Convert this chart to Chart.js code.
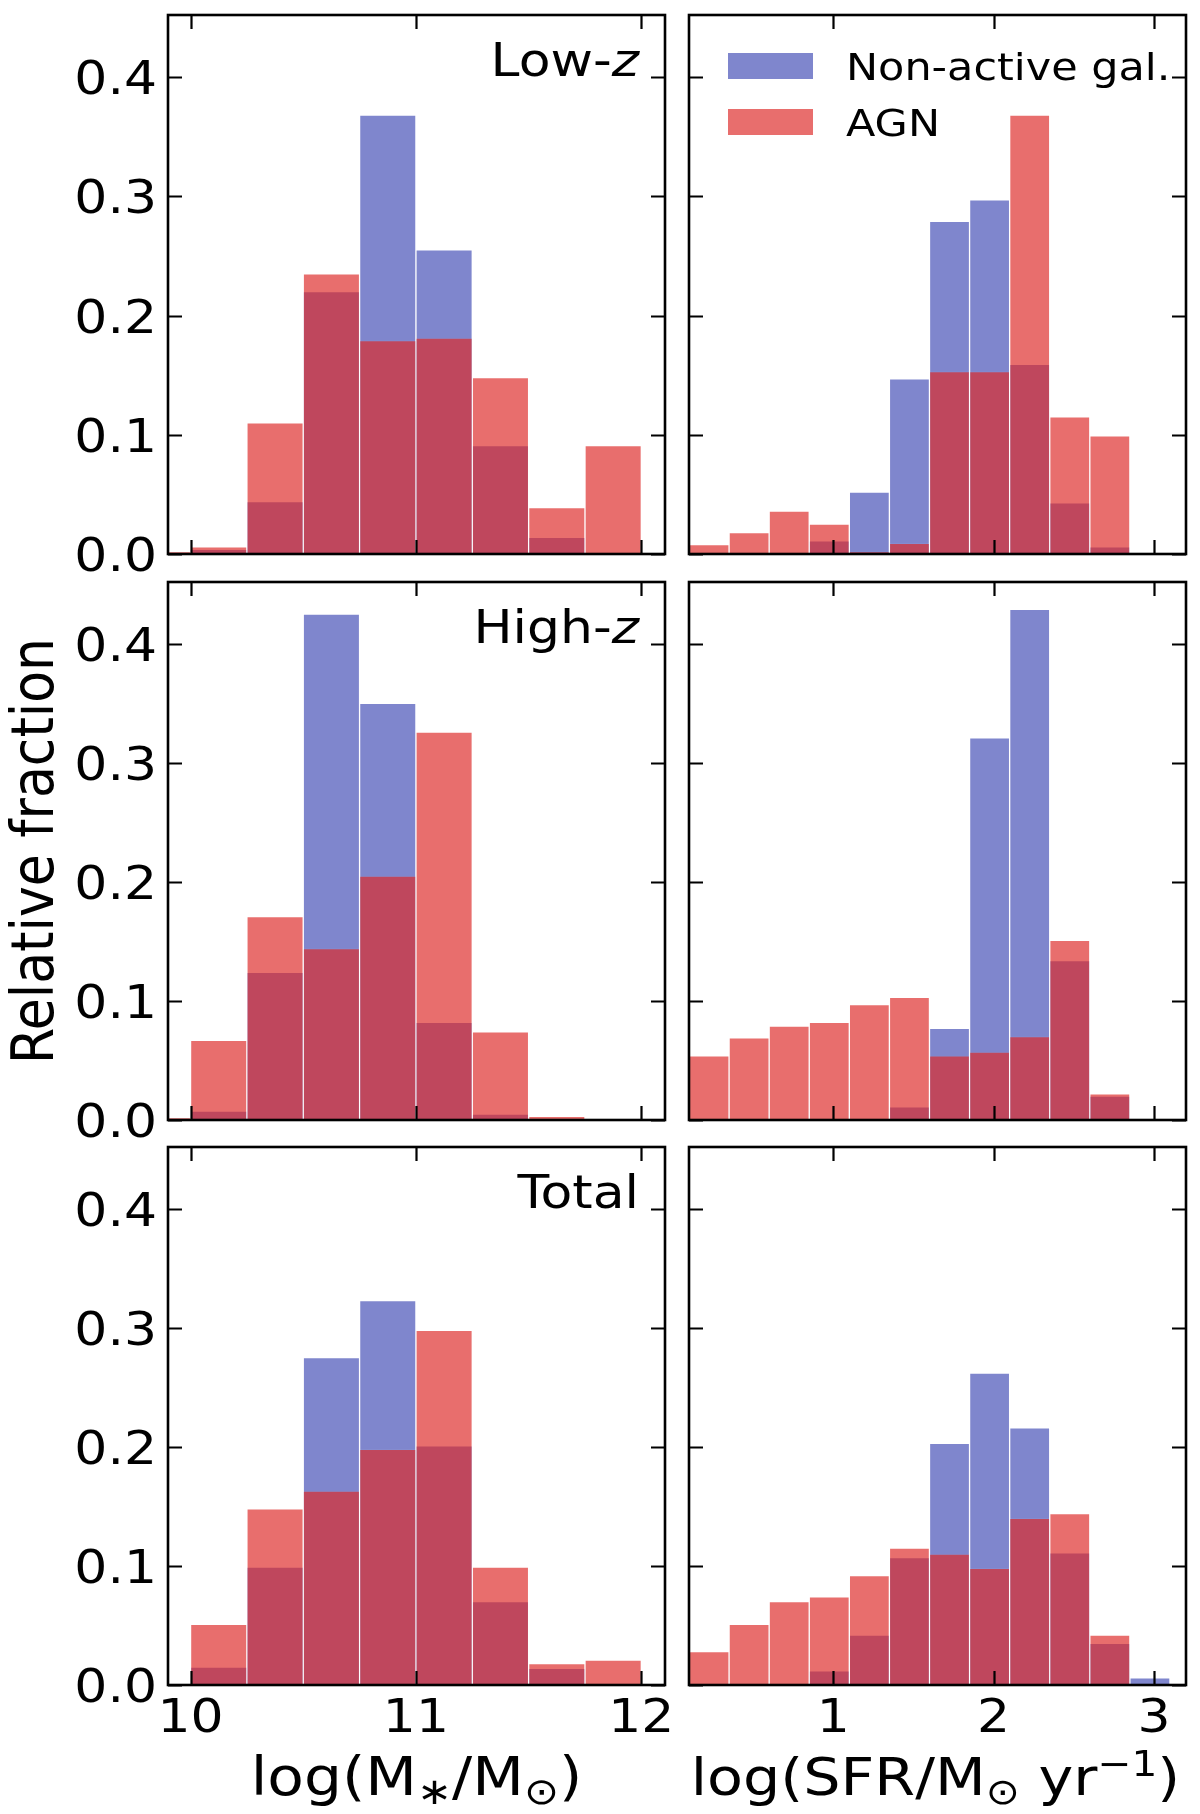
<!DOCTYPE html>
<html>
<head>
<meta charset="utf-8">
<script src="https://cdn.jsdelivr.net/npm/chart.js@4.4.1/dist/chart.umd.min.js"></script>
<style>
  html, body { margin: 0; padding: 0; background: #fff; }
  #page { position: relative; width: 1200px; height: 1814px; overflow: hidden; }
  #page canvas { position: absolute; }
</style>
</head>
<body>
<div id="page"></div>
<script>
// bin centres (bin width 0.25 dex)
const massBins = [9.875, 10.125, 10.375, 10.625, 10.875, 11.125, 11.375, 11.625, 11.875];
const sfrBins = [0.225, 0.475, 0.725, 0.975, 1.225, 1.475, 1.725, 1.975, 2.225, 2.475, 2.725, 2.975];

// tick labels
const yTicks = [0, 0.1, 0.2, 0.3, 0.4];
const yTickLabels = ['0.0', '0.1', '0.2', '0.3', '0.4'];
const massTicks = [10, 11, 12];
const sfrTicks = [1, 2, 3];

// Low-z
const lowMassNonAct = [0, 0.004, 0.044, 0.220, 0.368, 0.255, 0.091, 0.014, 0];
const lowMassAgn = [0.002, 0.006, 0.110, 0.235, 0.179, 0.181, 0.148, 0.039, 0.091];
const lowSfrNonAct = [0, 0, 0, 0.011, 0.052, 0.147, 0.279, 0.297, 0.159, 0.043, 0.006, 0];
const lowSfrAgn = [0.008, 0.018, 0.036, 0.025, 0.002, 0.009, 0.153, 0.153, 0.368, 0.115, 0.099, 0];

// High-z
const highMassNonAct = [0, 0.0075, 0.124, 0.425, 0.350, 0.082, 0.005, 0, 0];
const highMassAgn = [0.002, 0.067, 0.171, 0.144, 0.205, 0.326, 0.074, 0.003, 0];
const highSfrNonAct = [0, 0, 0, 0, 0, 0.011, 0.077, 0.321, 0.429, 0.134, 0.020, 0.001];
const highSfrAgn = [0.054, 0.069, 0.079, 0.082, 0.097, 0.103, 0.054, 0.057, 0.070, 0.151, 0.022, 0];

// Total
const totMassNonAct = [0, 0.015, 0.099, 0.275, 0.323, 0.201, 0.070, 0.014, 0];
const totMassAgn = [0.001, 0.051, 0.148, 0.163, 0.198, 0.298, 0.099, 0.018, 0.021];
const totSfrNonAct = [0, 0, 0.001, 0.012, 0.042, 0.107, 0.203, 0.262, 0.216, 0.111, 0.035, 0.006];
const totSfrAgn = [0.028, 0.051, 0.070, 0.074, 0.092, 0.115, 0.110, 0.098, 0.140, 0.144, 0.042, 0];

const BLUE = 'rgb(127,134,205)';
const RED = 'rgba(221,42,40,0.68)';
const EDGE = 'rgba(255,255,255,0.05)';
const FONT = '"DejaVu Sans", "Noto Sans", sans-serif';
const SX = 1.13; // the figure is a bit wider than tall, text too

// draw a run of text pieces (for sub/superscripts), stretched horizontally
function drawParts(ctx, parts, x, y, align) {
  let total = 0;
  parts.forEach(p => {
    ctx.font = (p.italic ? 'italic ' : '') + p.size + 'px ' + FONT;
    p.w = ctx.measureText(p.text).width * SX;
    total += p.w;
  });
  let cx = align === 'right' ? x - total : align === 'center' ? x - total / 2 : x;
  parts.forEach(p => {
    ctx.save();
    ctx.translate(cx, y + (p.dy || 0));
    ctx.scale(SX, 1);
    ctx.font = (p.italic ? 'italic ' : '') + p.size + 'px ' + FONT;
    ctx.textAlign = 'left';
    ctx.textBaseline = 'alphabetic';
    ctx.fillStyle = '#000';
    ctx.fillText(p.text, 0, 0);
    ctx.restore();
    cx += p.w;
  });
}

// frame, inward ticks on all sides, labels
const frameTicks = {
  id: 'frameTicks',
  afterDraw(chart, args, o) {
    const { ctx, chartArea: a } = chart;
    const xs = chart.scales.x, ys = chart.scales.y;
    ctx.save();
    ctx.strokeStyle = '#000';
    ctx.lineWidth = 2.2;
    ctx.beginPath();
    o.xTicks.forEach(v => {
      const px = Math.round(xs.getPixelForValue(v)) + 0.5;
      ctx.moveTo(px, a.bottom); ctx.lineTo(px, a.bottom - 14);
      ctx.moveTo(px, a.top); ctx.lineTo(px, a.top + 14);
    });
    yTicks.forEach(v => {
      const py = Math.round(ys.getPixelForValue(v)) + 0.5;
      ctx.moveTo(a.left, py); ctx.lineTo(a.left + 14, py);
      ctx.moveTo(a.right, py); ctx.lineTo(a.right - 14, py);
    });
    ctx.stroke();
    ctx.lineWidth = 2.6;
    ctx.strokeRect(a.left, a.top, a.right - a.left, a.bottom - a.top);

    if (o.yLabels) {
      yTicks.forEach((v, i) => {
        const py = ys.getPixelForValue(v);
        drawParts(ctx, [{ text: yTickLabels[i], size: 46 }], a.left - 11, py + 17, 'right');
      });
    }
    if (o.xLabels) {
      o.xTicks.forEach(v => {
        const px = xs.getPixelForValue(v);
        drawParts(ctx, [{ text: String(v), size: 46 }], px, a.bottom + 47, 'center');
      });
    }
    if (o.panelLabel) {
      drawParts(ctx, o.panelLabel, a.right - 26, a.top + 61, 'right');
    }
    if (o.xTitle) {
      drawParts(ctx, o.xTitle, (a.left + a.right) / 2 + (o.xTitleShift || 0), a.bottom + 110, 'center');
    }
    if (o.yTitle) {
      ctx.save();
      ctx.translate(a.left - 115, (a.top + a.bottom) / 2);
      ctx.scale(SX, 1);
      ctx.rotate(-Math.PI / 2);
      ctx.font = '52px ' + FONT;
      ctx.textAlign = 'center';
      ctx.textBaseline = 'alphabetic';
      ctx.fillStyle = '#000';
      ctx.fillText(o.yTitle, 0, 0);
      ctx.restore();
    }
    if (o.legend) {
      const items = [
        { color: BLUE, text: 'Non-active gal.' },
        { color: RED, text: 'AGN' }
      ];
      items.forEach((it, i) => {
        const top = a.top + 38 + i * 56;
        ctx.fillStyle = it.color;
        ctx.fillRect(a.left + 39, top, 85, 26);
        drawParts(ctx, [{ text: it.text, size: 38 }], a.left + 157, top + 27, 'left');
      });
    }
    ctx.restore();
  }
};

const rows = [{ top: 15, h: 539 }, { top: 582, h: 538 }, { top: 1147, h: 538 }];
const cols = [
  { left: 168, w: 497, cl: 0, cr: 700, min: 9.9, max: 12.105, bins: massBins, ticks: massTicks },
  { left: 689, w: 497, cl: 672, cr: 1200, min: 0.1, max: 3.2, bins: sfrBins, ticks: sfrTicks }
];

const panels = [
  { r: 0, c: 0, nonAct: lowMassNonAct, agn: lowMassAgn, label: 'Low-' },
  { r: 0, c: 1, nonAct: lowSfrNonAct, agn: lowSfrAgn, legend: true },
  { r: 1, c: 0, nonAct: highMassNonAct, agn: highMassAgn, label: 'High-', yTitle: 'Relative fraction' },
  { r: 1, c: 1, nonAct: highSfrNonAct, agn: highSfrAgn },
  { r: 2, c: 0, nonAct: totMassNonAct, agn: totMassAgn, label: 'Total',
    xTitle: [{ text: 'log(M', size: 53 }, { text: '\u2217', size: 37, dy: 9 }, { text: '/M', size: 53 },
             { text: '\u2299', size: 37, dy: 9 }, { text: ')', size: 53 }] },
  { r: 2, c: 1, nonAct: totSfrNonAct, agn: totSfrAgn, xShift: -2,
    xTitle: [{ text: 'log(SFR/M', size: 52 }, { text: '\u2299', size: 36, dy: 9 }, { text: ' yr', size: 52 },
             { text: '\u22121', size: 36, dy: -19 }, { text: ')', size: 52 }] }
];

const page = document.getElementById('page');

panels.forEach(p => {
  const row = rows[p.r], col = cols[p.c];
  const cTop = row.top - 15;
  const cBottom = p.r === 2 ? 1814 : row.top + row.h + 28;
  const canvas = document.createElement('canvas');
  const w = col.cr - col.cl, h = cBottom - cTop;
  canvas.width = w; canvas.height = h;
  canvas.style.left = col.cl + 'px';
  canvas.style.top = cTop + 'px';
  canvas.style.width = w + 'px';
  canvas.style.height = h + 'px';
  page.appendChild(canvas);

  let panelLabel = null;
  if (p.label === 'Total') panelLabel = [{ text: 'Total', size: 46 }];
  else if (p.label) panelLabel = [{ text: p.label, size: 46 }, { text: 'z', size: 46, italic: true }];

  new Chart(canvas, {
    type: 'bar',
    data: {
      datasets: [
        {
          label: 'Non-active gal.',
          data: col.bins.map((x, i) => ({ x: x, y: p.nonAct[i] })),
          backgroundColor: BLUE,
          borderColor: EDGE,
          borderWidth: 1,
          order: 2
        },
        {
          label: 'AGN',
          data: col.bins.map((x, i) => ({ x: x, y: p.agn[i] })),
          backgroundColor: RED,
          borderColor: EDGE,
          borderWidth: 1,
          order: 1
        }
      ]
    },
    options: {
      responsive: false,
      animation: false,
      layout: {
        padding: {
          left: col.left - col.cl,
          right: col.cr - (col.left + col.w),
          top: row.top - cTop,
          bottom: cBottom - (row.top + row.h)
        }
      },
      datasets: {
        bar: { grouped: false, barPercentage: 1, categoryPercentage: 1, clip: 0 }
      },
      scales: {
        x: {
          type: 'linear', min: col.min, max: col.max, display: false,
          offset: false, grid: { offset: false },
          afterBuildTicks: s => { s.ticks = col.ticks.map(v => ({ value: v })); }
        },
        y: {
          type: 'linear', min: 0, max: 0.452, display: false,
          afterBuildTicks: s => { s.ticks = yTicks.map(v => ({ value: v })); }
        }
      },
      plugins: {
        legend: { display: false },
        tooltip: { enabled: false },
        frameTicks: {
          xTicks: col.ticks,
          yLabels: p.c === 0,
          xLabels: p.r === 2,
          panelLabel: panelLabel,
          legend: !!p.legend,
          xTitle: p.xTitle || null,
          xTitleShift: p.xShift || 0,
          yTitle: p.yTitle || null
        }
      }
    },
    plugins: [frameTicks]
  });
});
</script>
</body>
</html>
